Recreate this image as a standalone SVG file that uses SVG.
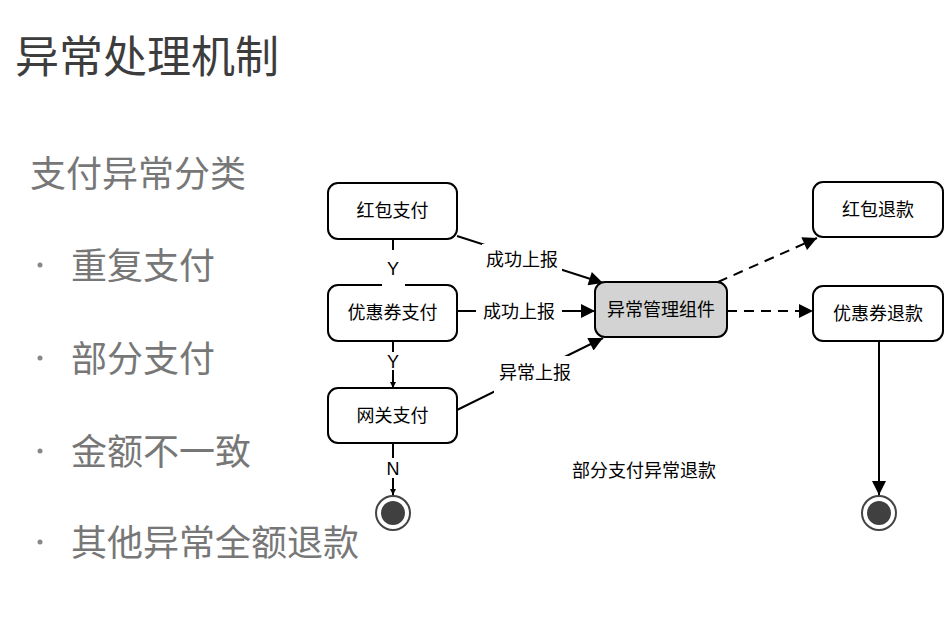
<svg xmlns="http://www.w3.org/2000/svg" width="951" height="636" viewBox="0 0 951 636">
<style>
.node rect{fill:#fff;stroke:#000;stroke-width:2}
.node text,.lbl{font-family:"Liberation Sans","Noto Sans CJK SC",sans-serif;font-size:18px;fill:#000;text-anchor:middle}
.edge{stroke:#000;stroke-width:2;fill:none}
.dash{stroke-dasharray:10 7}
.bg{fill:#fff}
.big{font-family:"Noto Sans CJK SC",sans-serif;fill:#777}
</style>
<defs>
<marker id="ah" viewBox="0 0 10 10" refX="10" refY="5" markerWidth="6" markerHeight="6" markerUnits="userSpaceOnUse" orient="auto"><path d="M0,0 L10,5 L0,10 z" fill="#000"/></marker>
<marker id="ab" viewBox="0 0 10 10" refX="10" refY="5" markerWidth="16" markerHeight="14" markerUnits="userSpaceOnUse" orient="auto"><path d="M0,0 L10,5 L0,10 z" fill="#000"/></marker>
</defs>
<rect width="951" height="636" fill="#fff"/>
<text x="15" y="73" class="big" font-size="44" style="fill:#3d3d3d">异常处理机制</text>
<text x="30" y="187" class="big" font-size="36">支付异常分类</text>
<g class="big" font-size="36">
<circle cx="40" cy="265" r="2.5" fill="#888"/><text x="71" y="279">重复支付</text>
<circle cx="40" cy="358" r="2.5" fill="#888"/><text x="71" y="372">部分支付</text>
<circle cx="40" cy="451" r="2.5" fill="#888"/><text x="71" y="465">金额不一致</text>
<circle cx="40" cy="542" r="2.5" fill="#888"/><text x="71" y="556">其他异常全额退款</text>
</g>
<g id="connectors">
<line class="edge" x1="393" y1="239" x2="393" y2="285"/>
<line class="edge" x1="393" y1="341" x2="393" y2="388" marker-end="url(#ah)"/>
<line class="edge" x1="393" y1="443" x2="393" y2="495" marker-end="url(#ah)"/>
<line class="edge" x1="457" y1="236" x2="603" y2="283" marker-end="url(#ab)"/>
<line class="edge" x1="457" y1="311" x2="595" y2="311" marker-end="url(#ab)"/>
<line class="edge" x1="457" y1="410" x2="603" y2="338" marker-end="url(#ab)"/>
<line class="edge dash" x1="718" y1="282" x2="817" y2="238" marker-end="url(#ab)"/>
<line class="edge dash" x1="727" y1="311" x2="813" y2="311" marker-end="url(#ab)"/>
<line class="edge" x1="879" y1="341" x2="879" y2="495" marker-end="url(#ab)"/>
</g>
<g id="n1" class="node"><rect x="328" y="183" width="129" height="56" rx="10"/><text x="392.5" y="217">红包支付</text></g>
<g id="n2" class="node"><rect x="328" y="285" width="129" height="56" rx="10"/><text x="392.5" y="319">优惠券支付</text></g>
<g id="n3" class="node"><rect x="328" y="388" width="129" height="55" rx="10"/><text x="392.5" y="422">网关支付</text></g>
<g id="n4" class="node"><rect x="595" y="282" width="132" height="55" rx="10" style="fill:#d3d3d3"/><text x="661" y="316">异常管理组件</text></g>
<g id="n5" class="node"><rect x="813" y="182" width="130" height="55" rx="10"/><text x="878" y="216">红包退款</text></g>
<g id="n6" class="node"><rect x="813" y="286" width="130" height="55" rx="10"/><text x="878" y="320">优惠券退款</text></g>
<g id="end1"><circle cx="393" cy="513" r="17" fill="#fff" stroke="#444" stroke-width="2"/><circle cx="393" cy="513" r="12" fill="#404040"/></g>
<g id="end2"><circle cx="879" cy="513" r="17" fill="#fff" stroke="#444" stroke-width="2"/><circle cx="879" cy="513" r="12" fill="#404040"/></g>
<g id="labels">
<rect class="bg" x="382" y="250" width="23" height="36"/><text class="lbl" x="393" y="275">Y</text>
<rect class="bg" x="384" y="352" width="18" height="18"/><text class="lbl" x="393" y="368">Y</text>
<rect class="bg" x="384" y="458" width="18" height="20"/><text class="lbl" x="393" y="475">N</text>
<rect class="bg" x="482" y="244" width="80" height="50"/><text class="lbl" x="522" y="266">成功上报</text>
<rect class="bg" x="476" y="300" width="86" height="22"/><text class="lbl" x="519" y="318">成功上报</text>
<rect class="bg" x="494" y="356" width="82" height="40"/><text class="lbl" x="535" y="379">异常上报</text>
<text class="lbl" x="644" y="477">部分支付异常退款</text>
</g>
</svg>
